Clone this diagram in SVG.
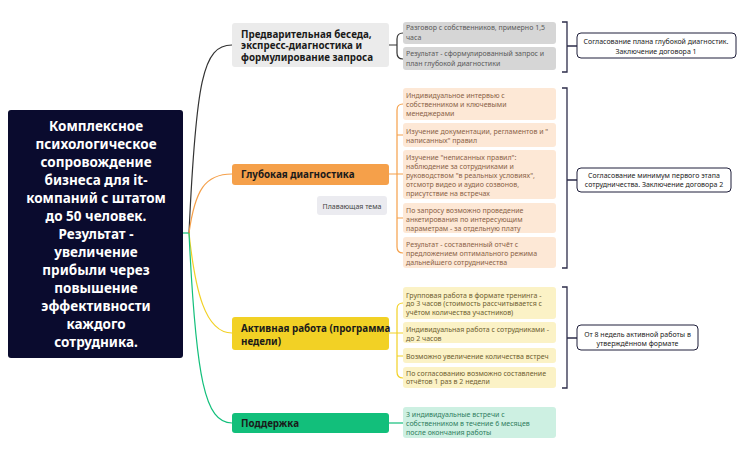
<svg xmlns="http://www.w3.org/2000/svg" width="744" height="460" viewBox="0 0 744 460">
<style>
text{font-family:"Noto Sans","Open Sans","DejaVu Sans",sans-serif}
.root{font-size:13.5px;font-weight:bold;fill:#fff;text-anchor:middle}
.br{font-size:9.8px;font-weight:bold;fill:#1a1a1a}
.lf{font-size:7px}
.sm{font-size:7px;fill:#222;text-anchor:middle}
.c{fill:none;stroke-width:1.2}
.sb{fill:none;stroke:#2d2d4a;stroke-width:1.3}
.sbox{fill:#fff;stroke:#1e1e3a;stroke-width:1}
</style>
<rect width="744" height="460" fill="#fff"/>
<g id="connectors">
<path class="c" stroke="#12bf7b" d="M183,233 L189,233"/>
<path class="c" stroke="#333" d="M189,233 C196,80 203,45 232,45"/>
<path class="c" stroke="#f5a04a" d="M189,233 C195,190 205,174 232,174"/>
<path class="c" stroke="#f2d125" d="M189,233 C195,290 205,333 232,333"/>
<path class="c" stroke="#12bf7b" d="M189,233 C196,380 205,423 232,423"/>
<path class="c" stroke="#333" d="M389,45 L397,45 M403,33 Q397,33 397,39 L397,53 Q397,59 403,59"/>
<path class="c" stroke="#f5a04a" d="M389,174 L403,174 M403,104 Q397,104 397,110 L397,247 Q397,253 403,253 M397,135 L403,135 M397,218 L403,218"/>
<path class="c" stroke="#f2d125" d="M389,333 L403,333 M403,303 Q397,303 397,309 L397,372 Q397,378 403,378 M397,356 L403,356"/>
<path class="c" stroke="#12bf7b" d="M389,423 L403,423"/>
<path class="sb" d="M562,22 L567,22 L567,72 L562,72 M567,46 L577,46"/>
<path class="sb" d="M562,88 L567,88 L567,268 L562,268 M567,180 L577,180"/>
<path class="sb" d="M562,287 L567,287 L567,388 L562,388 M567,338 L577,338"/>
</g>
<g id="root">
<rect x="8" y="110" width="175" height="248" rx="3" fill="#0a0b2e"/>
<text class="root"><tspan x="96" y="131">Комплексное</tspan><tspan x="96" y="149">психологическое</tspan><tspan x="96" y="167">сопровождение</tspan><tspan x="96" y="185">бизнеса для it-</tspan><tspan x="96" y="203">компаний с штатом</tspan><tspan x="96" y="221">до 50 человек.</tspan><tspan x="96" y="239">Результат -</tspan><tspan x="96" y="257">увеличение</tspan><tspan x="96" y="275">прибыли через</tspan><tspan x="96" y="293">повышение</tspan><tspan x="96" y="311">эффективности</tspan><tspan x="96" y="329">каждого</tspan><tspan x="96" y="347">сотрудника.</tspan></text>
</g>
<g id="branch1">
<rect x="232" y="23" width="157" height="44" rx="3" fill="#ebebeb"/>
<text class="br"><tspan x="241" y="37.5">Предварительная беседа,</tspan><tspan x="241" y="49">экспресс-диагностика и</tspan><tspan x="241" y="60.5">формулирование запроса</tspan></text>
</g>
<g id="b1leaf1">
<rect x="403" y="22" width="153" height="22" rx="3" fill="#d6d6d6"/>
<text class="lf" fill="#5a5a5a"><tspan x="406" y="30">Разговор с собственников, примерно 1,5</tspan><tspan x="406" y="40">часа</tspan></text>
</g>
<g id="b1leaf2">
<rect x="403" y="47" width="153" height="23" rx="3" fill="#d6d6d6"/>
<text class="lf" fill="#5a5a5a"><tspan x="406" y="56">Результат - сформулированный запрос и</tspan><tspan x="406" y="66">план глубокой диагностики</tspan></text>
</g>
<g id="summary1">
<rect class="sbox" x="577" y="33" width="159" height="25" rx="4"/>
<text class="sm"><tspan x="656" y="43.5">Согласование плана глубокой диагностик.</tspan><tspan x="656" y="53.5">Заключение договора 1</tspan></text>
</g>
<g id="branch2">
<rect x="232" y="164" width="157" height="21" rx="3" fill="#f5a04a"/>
<text class="br"><tspan x="241" y="178">Глубокая диагностика</tspan></text>
</g>
<g id="floating">
<rect x="317" y="196" width="70" height="19" rx="3" fill="#ebebf0"/>
<text class="lf" fill="#444" text-anchor="middle"><tspan x="352" y="208.5">Плавающая тема</tspan></text>
</g>
<g id="b2leaf1">
<rect x="403" y="88" width="153" height="32" rx="3" fill="#fde8d6"/>
<text class="lf" fill="#8a6246"><tspan x="406" y="97.5">Индивидуальное интервью с</tspan><tspan x="406" y="107">собственником и ключевыми</tspan><tspan x="406" y="116">менеджерами</tspan></text>
</g>
<g id="b2leaf2">
<rect x="403" y="123" width="153" height="24" rx="3" fill="#fde8d6"/>
<text class="lf" fill="#8a6246"><tspan x="406" y="133.5">Изучение документации, регламентов и "</tspan><tspan x="406" y="142.5">написанных" правил</tspan></text>
</g>
<g id="b2leaf3">
<rect x="403" y="150" width="153" height="49" rx="3" fill="#fde8d6"/>
<text class="lf" fill="#8a6246"><tspan x="406" y="159.5">Изучение "неписанных правил":</tspan><tspan x="406" y="168.5">наблюдение за сотрудниками и</tspan><tspan x="406" y="177.5">руководством "в реальных условиях",</tspan><tspan x="406" y="186.5">отсмотр видео и аудио созвонов,</tspan><tspan x="406" y="195.5">присутствие на встречах</tspan></text>
</g>
<g id="b2leaf4">
<rect x="403" y="203" width="153" height="30" rx="3" fill="#fde8d6"/>
<text class="lf" fill="#8a6246"><tspan x="406" y="212.5">По запросу возможно проведение</tspan><tspan x="406" y="221.5">анкетирования по интересующим</tspan><tspan x="406" y="230.5">параметрам - за отдельную плату</tspan></text>
</g>
<g id="b2leaf5">
<rect x="403" y="237" width="153" height="31" rx="3" fill="#fde8d6"/>
<text class="lf" fill="#8a6246"><tspan x="406" y="246.5">Результат - составленный отчёт с</tspan><tspan x="406" y="255.5">предложением оптимального режима</tspan><tspan x="406" y="264.5">дальнейшего сотрудничества</tspan></text>
</g>
<g id="summary2">
<rect class="sbox" x="577" y="168" width="154" height="24" rx="4"/>
<text class="sm"><tspan x="654" y="177.5">Согласование минимум первого этапа</tspan><tspan x="654" y="187">сотрудничества. Заключение договора 2</tspan></text>
</g>
<g id="branch3">
<rect x="232" y="317" width="157" height="33" rx="3" fill="#f2d125"/>
<text class="br"><tspan x="241" y="331.5">Активная работа (программа</tspan><tspan x="241" y="344.5">недели)</tspan></text>
</g>
<g id="b3leaf1">
<rect x="403" y="287" width="153" height="32" rx="3" fill="#fbf2c6"/>
<text class="lf" fill="#6e6030"><tspan x="406" y="297.5">Групповая работа в формате тренинга -</tspan><tspan x="406" y="306">до 3 часов (стоимость рассчитывается с</tspan><tspan x="406" y="315">учётом количества участников)</tspan></text>
</g>
<g id="b3leaf2">
<rect x="403" y="322" width="153" height="21" rx="3" fill="#fbf2c6"/>
<text class="lf" fill="#6e6030"><tspan x="406" y="331.5">Индивидуальная работа с сотрудниками -</tspan><tspan x="406" y="340.5">до 2 часов</tspan></text>
</g>
<g id="b3leaf3">
<rect x="403" y="348" width="153" height="15" rx="3" fill="#fbf2c6"/>
<text class="lf" fill="#6e6030"><tspan x="406" y="359">Возможно увеличение количества встреч</tspan></text>
</g>
<g id="b3leaf4">
<rect x="403" y="367" width="153" height="21" rx="3" fill="#fbf2c6"/>
<text class="lf" fill="#6e6030"><tspan x="406" y="375.5">По согласованию возможно составление</tspan><tspan x="406" y="384">отчётов 1 раз в 2 недели</tspan></text>
</g>
<g id="summary3">
<rect class="sbox" x="577" y="325" width="121" height="25" rx="4"/>
<text class="sm"><tspan x="637.5" y="336.5">От 8 недель активной работы в</tspan><tspan x="637.5" y="345.5">утверждённом формате</tspan></text>
</g>
<g id="branch4">
<rect x="232" y="413" width="157" height="20" rx="3" fill="#12bf7b"/>
<text class="br"><tspan x="241" y="427">Поддержка</tspan></text>
</g>
<g id="b4leaf1">
<rect x="403" y="407" width="153" height="31" rx="3" fill="#cdf0e2"/>
<text class="lf" fill="#2f7d5e"><tspan x="406" y="416.5">3 индивидуальные встречи с</tspan><tspan x="406" y="425.5">собственником в течение 6 месяцев</tspan><tspan x="406" y="435">после окончания работы</tspan></text>
</g>
</svg>
